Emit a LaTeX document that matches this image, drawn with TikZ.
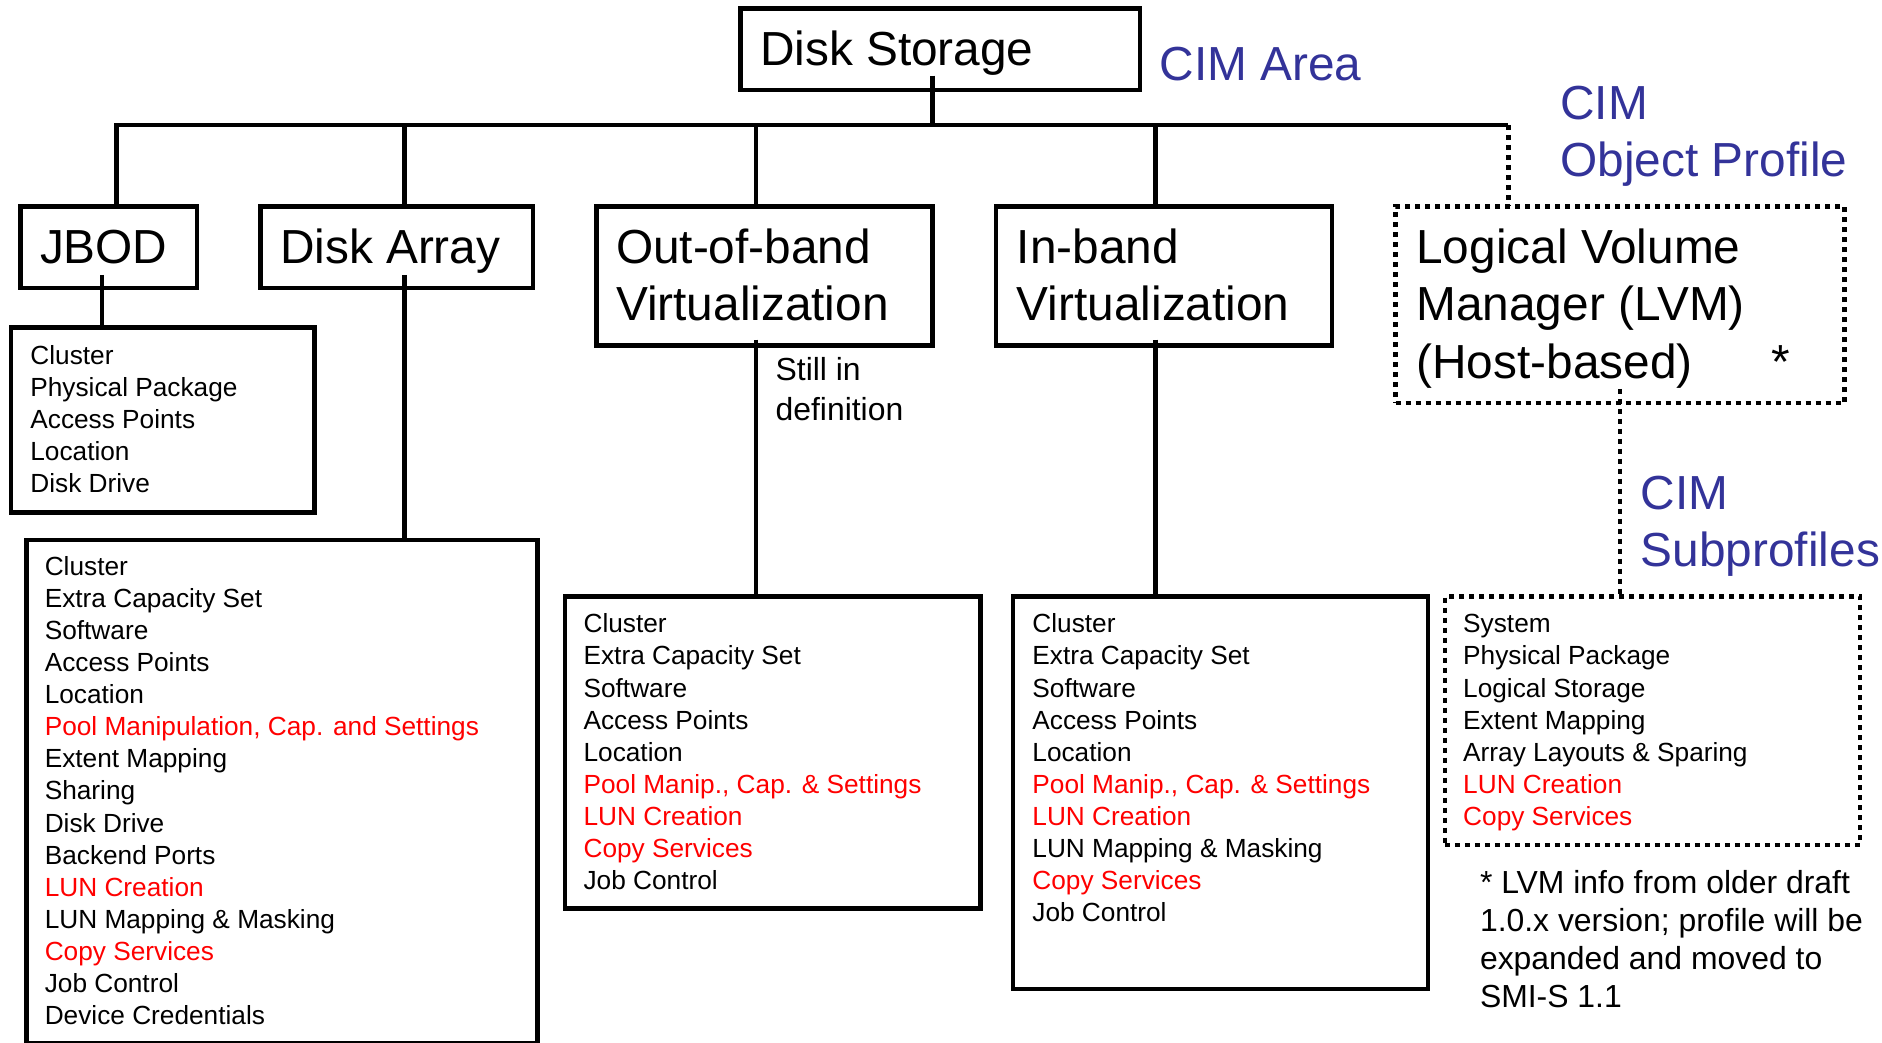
\documentclass[tikz,border=0pt]{standalone}
\usepackage{fontspec}
\setmainfont{Liberation Sans}
\usetikzlibrary{calc}
\definecolor{cimblue}{HTML}{333399}
\definecolor{cimred}{HTML}{FF0000}
\newcommand\ttstrut{\rule{0pt}{18pt}}
\newcommand\lsstrut{\rule{0pt}{11pt}}
\newcommand\fnstrut{\rule{0pt}{12pt}}
\newcommand\rd[1]{\textcolor{cimred}{#1}}
\begin{document}
\begin{tikzpicture}[x=0.6pt,y=-0.6pt,
  frame/.style={draw, line width=2.2pt, inner sep=0pt, outer sep=0pt, anchor=north west},
  dotframe/.style={frame, dash pattern=on 2.5pt off 2.5pt},
  conn/.style={line width=2.2pt},
  dotconn/.style={line width=2.2pt, dash pattern=on 2.5pt off 2.5pt},
  title/.style={anchor=north west, inner sep=0pt, align=left, font=\fontsize{23.9pt}{28.8pt}\selectfont},
  cimlabel/.style={title, text=cimblue},
  list/.style={anchor=north west, inner sep=0pt, align=left, font=\fontsize{13.12pt}{16.05pt}\selectfont},
  note/.style={anchor=north west, inner sep=0pt, align=left, font=\fontsize{15.95pt}{19.06pt}\selectfont},
]
\path[use as bounding box, fill=white] (0,0) rectangle (1568.33,868.33);

% ---- top-level boxes
\node[frame, minimum width=199.8pt, minimum height=40.8pt] (ds) at (617,7) {};
\node[frame, minimum width=88.2pt, minimum height=40.8pt] (jbod) at (17,172) {};
\node[frame, minimum width=136.2pt, minimum height=40.8pt] (da) at (217,172) {};
\node[frame, minimum width=168pt, minimum height=69.6pt] (oob) at (497,172) {};
\node[frame, minimum width=168pt, minimum height=69.6pt] (ib) at (830,172) {};
\node[dotframe, minimum width=224.4pt, minimum height=98.4pt] (lvm) at (1163,172) {};

% ---- content boxes
\node[frame, minimum width=151.8pt, minimum height=92.4pt] (jbodc) at (9,273) {};
\node[frame, minimum width=255.6pt, minimum height=251.4pt] (dac) at (22,450) {};
\node[frame, minimum width=207.6pt, minimum height=156pt] (oobc) at (471,497) {};
\node[frame, minimum width=207.6pt, minimum height=196.2pt] (ibc) at (844,497) {};
\node[dotframe, minimum width=207.6pt, minimum height=124.2pt] (lvmc) at (1204,497) {};

% ---- titles
\node[title] (tds) at (633,24) {\ttstrut Disk Storage};
\node[title] (tjbod) at (33,189) {\ttstrut JBOD};
\node[title] (tda) at (233,189) {\ttstrut Disk Array};
\node[title] (toob) at (513,189) {\ttstrut Out-of-band\\Virtualization};
\node[title] (tib) at (847,189) {\ttstrut In-band\\Virtualization};
\node[title] (tlvm) at (1180,189) {\ttstrut Logical Volume\\Manager (LVM)\\(Host-based)\hspace{39.2pt}*};

% ---- CIM labels
\node[cimlabel] (carea) at (966,37) {\ttstrut CIM Area};
\node[cimlabel] (cobj) at (1300,69) {\ttstrut CIM\\Object Profile};
\node[cimlabel] (csub) at (1367,394) {\ttstrut CIM\\Subprofiles};

% ---- lists
\node[list] (ljbod) at (25,284.7) {\lsstrut Cluster\\Physical Package\\Access Points\\Location\\Disk Drive};
\node[list] (lda) at (37,460.7) {\lsstrut Cluster\\Extra Capacity Set\\Software\\Access Points\\Location\\
  \rd{Pool Manipulation, Cap. and Settings}\\Extent Mapping\\Sharing\\Disk Drive\\Backend Ports\\
  \rd{LUN Creation}\\LUN Mapping \& Masking\\\rd{Copy Services}\\Job Control\\Device Credentials};
\node[list] (loob) at (486,508.7) {\lsstrut Cluster\\Extra Capacity Set\\Software\\Access Points\\Location\\
  \rd{Pool Manip., Cap. \& Settings}\\\rd{LUN Creation}\\\rd{Copy Services}\\Job Control};
\node[list] (lib) at (860,508.7) {\lsstrut Cluster\\Extra Capacity Set\\Software\\Access Points\\Location\\
  \rd{Pool Manip., Cap. \& Settings}\\\rd{LUN Creation}\\LUN Mapping \& Masking\\\rd{Copy Services}\\Job Control};
\node[list] (llvm) at (1219,508.7) {\lsstrut System\\Physical Package\\Logical Storage\\Extent Mapping\\
  Array Layouts \& Sparing\\\rd{LUN Creation}\\\rd{Copy Services}};

% ---- notes
\node[note, font=\fontsize{15.95pt}{19.8pt}\selectfont] (still) at (646,297) {\fnstrut Still in\\definition};
\node[note] (foot) at (1233,724) {\fnstrut * LVM info from older draft\\1.0.x version; profile will be\\expanded and moved to\\SMI-S 1.1};

% ---- connectors
\coordinate (b1) at (97,104);
\coordinate (b2) at (337,104);
\coordinate (b3) at (630,104);
\coordinate (b4) at (963,104);
\coordinate (b5) at (1257,104);
\coordinate (bt) at (777,104);
\coordinate (xj) at (85,0);
\coordinate (xl) at (1350,0);

\draw[conn] ($(ds.south -| bt)+(0,-12)$) -- (bt);
\draw[conn] (jbod.north -| b1) -- (b1) -- (b5);
\draw[conn] (b2) -- (b2 |- da.north);
\draw[conn] (b3) -- (b3 |- oob.north);
\draw[conn] (b4) -- (b4 |- ib.north);
\draw[dotconn] (b5) -- (b5 |- lvm.north);

\draw[conn] ($(jbod.south -| xj)+(0,-11)$) -- (jbodc.north -| xj);
\draw[conn] ($(da.south -| b2)+(0,-11)$) -- (dac.north -| b2);
\draw[conn] ($(oob.south -| b3)+(0,-5)$) -- (oobc.north -| b3);
\draw[conn] ($(ib.south -| b4)+(0,-5)$) -- (ibc.north -| b4);
\draw[dotconn] ($(lvm.south -| xl)+(0,-12)$) -- (lvmc.north -| xl);
\end{tikzpicture}
\end{document}
